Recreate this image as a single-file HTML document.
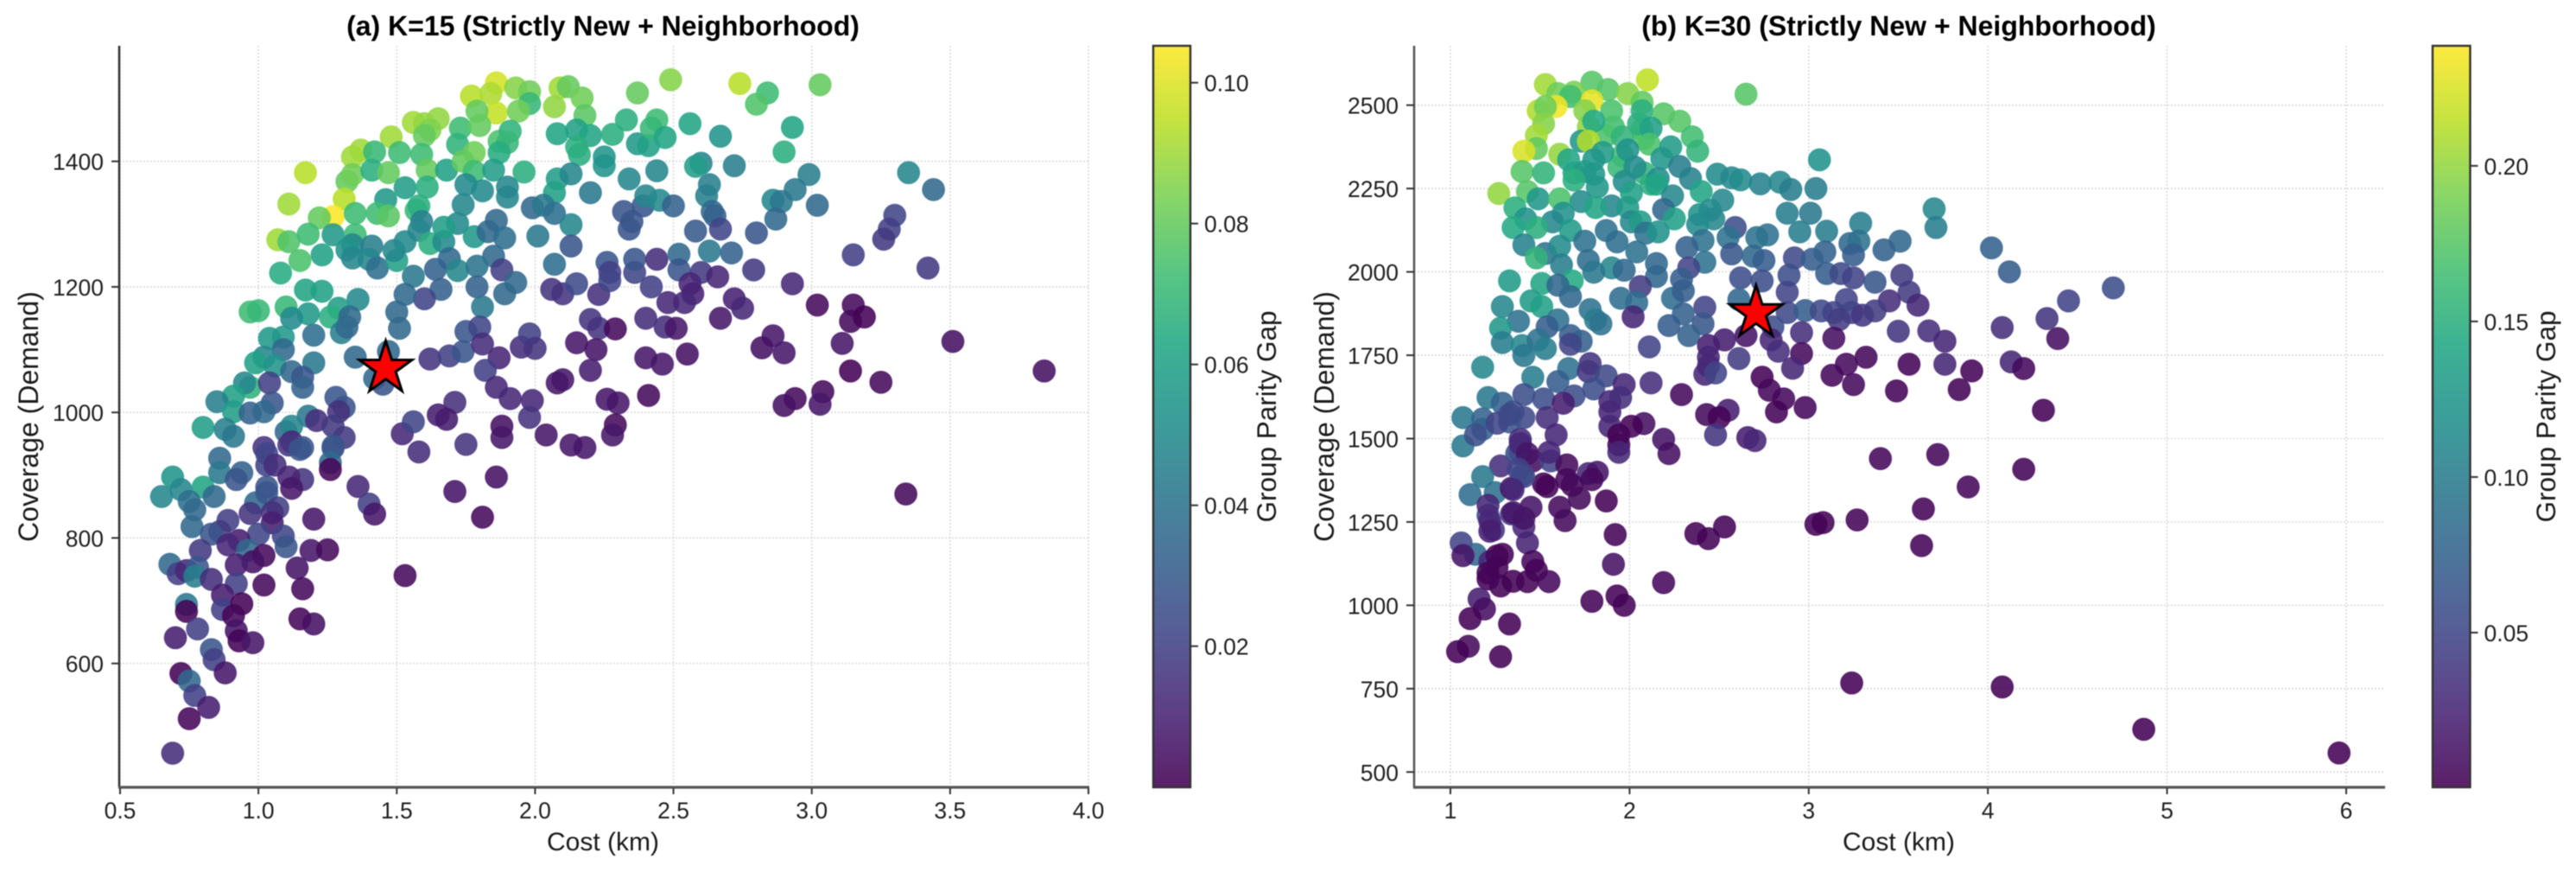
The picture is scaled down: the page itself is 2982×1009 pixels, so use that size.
<!DOCTYPE html>
<html lang="en">
<head>
<meta charset="utf-8">
<title>Coverage vs Cost Trade-off</title>
<style>
html,body{margin:0;padding:0;background:#fff;}
svg{display:block;font-family:"Liberation Sans",Arial,sans-serif;filter:blur(0.6px);}
</style>
</head>
<body>
<svg id="figure" xmlns="http://www.w3.org/2000/svg" width="2982" height="1009" viewBox="0 0 2982 1009">
  <defs>
    <linearGradient id="viridis" x1="0" y1="1" x2="0" y2="0">
      <stop offset="0" stop-color="#440154"/><stop offset="0.1" stop-color="#482475"/>
      <stop offset="0.2" stop-color="#414487"/><stop offset="0.3" stop-color="#355f8d"/>
      <stop offset="0.4" stop-color="#2a788e"/><stop offset="0.5" stop-color="#21918c"/>
      <stop offset="0.6" stop-color="#22a884"/><stop offset="0.7" stop-color="#44bf70"/>
      <stop offset="0.8" stop-color="#7ad151"/><stop offset="0.9" stop-color="#bddf26"/>
      <stop offset="1" stop-color="#fde725"/>
    </linearGradient>
  </defs>
  <rect width="2982" height="1009" fill="#ffffff"/>

  <g id="panel-a">
    <g id="grid-a"></g>
    <g id="points-a"></g>
    <g id="star-a"></g>
    <line x1="138" y1="53" x2="138" y2="911" stroke="#333" stroke-width="2.5"/>
    <line x1="137" y1="911" x2="1261" y2="911" stroke="#555" stroke-width="3.2"/>
    <g id="ticks-a"></g>
    <text x="698" y="41" text-anchor="middle" font-size="32" font-weight="bold" fill="#000">(a) K=15 (Strictly New + Neighborhood)</text>
    <text x="698" y="984" text-anchor="middle" font-size="30" fill="#1a1a1a">Cost (km)</text>
    <text transform="translate(44 482) rotate(-90)" text-anchor="middle" font-size="32" fill="#1a1a1a">Coverage (Demand)</text>
    <rect x="1335" y="53" width="43" height="858" fill="url(#viridis)" fill-opacity="0.88" stroke="#333" stroke-width="2.4"/>
    <g id="cbar-ticks-a"></g>
    <text transform="translate(1477 482) rotate(-90)" text-anchor="middle" font-size="31.5" fill="#1a1a1a">Group Parity Gap</text>
  </g>

  <g id="panel-b">
    <g id="grid-b"></g>
    <g id="points-b"></g>
    <g id="star-b"></g>
    <line x1="1637" y1="53" x2="1637" y2="911" stroke="#555" stroke-width="2.5"/>
    <line x1="1636" y1="911" x2="2761" y2="911" stroke="#555" stroke-width="3.2"/>
    <g id="ticks-b"></g>
    <text x="2198" y="41" text-anchor="middle" font-size="32" font-weight="bold" fill="#000">(b) K=30 (Strictly New + Neighborhood)</text>
    <text x="2198" y="984" text-anchor="middle" font-size="30" fill="#1a1a1a">Cost (km)</text>
    <text transform="translate(1544 482) rotate(-90)" text-anchor="middle" font-size="32" fill="#1a1a1a">Coverage (Demand)</text>
    <rect x="2816" y="53" width="43.5" height="858" fill="url(#viridis)" fill-opacity="0.88" stroke="#333" stroke-width="2.4"/>
    <g id="cbar-ticks-b"></g>
    <text transform="translate(2958 482) rotate(-90)" text-anchor="middle" font-size="31.5" fill="#1a1a1a">Group Parity Gap</text>
  </g>
</svg>

<script>
const xTicksA = [0.5, 1.0, 1.5, 2.0, 2.5, 3.0, 3.5, 4.0];
const yTicksA = [600, 800, 1000, 1200, 1400];
const gapTicksA = [0.02, 0.04, 0.06, 0.08, 0.10];
const xTicksB = [1, 2, 3, 4, 5, 6];
const yTicksB = [500, 750, 1000, 1250, 1500, 1750, 2000, 2250, 2500];
const gapTicksB = [0.05, 0.10, 0.15, 0.20];
const starCostA = [1.46];
const starCoverageA = [1070];
const starCostB = [2.706];
const starCoverageB = [1877];

const costA = [
1.86,1.77,1.84,1.86,1.93,1.98,1.98,1.94,2.09,2.12,
2.07,2.17,2.18,2.37,2.33,2.08,2.15,2.2,2.28,2.15,
2.16,2.25,2.25,2.37,2.41,1.65,1.56,1.6,1.62,1.6,
1.48,1.73,1.79,1.8,1.72,1.78,1.87,1.91,1.9,1.87,
1.37,1.34,1.42,1.51,1.59,1.32,1.34,1.41,1.47,1.61,
1.68,1.74,1.78,1.85,1.96,2.08,2.13,2.34,1.17,1.11,
1.53,1.61,1.46,1.75,1.81,1.9,1.9,2.07,2.2,1.31,
1.27,1.35,1.22,1.43,1.47,1.57,1.58,1.74,1.99,2.03,
2.07,2.13,2.32,2.39,2.35,2.34,1.07,1.11,1.18,1.27,
1.35,1.34,1.41,1.32,1.34,1.4,1.15,1.23,1.08,1.43,
1.5,1.49,1.53,1.59,1.58,1.62,1.67,1.72,1.67,1.78,
1.86,1.83,1.89,2.01,2.13,1.69,1.85,1.64,1.72,1.79,
1.88,1.56,1.93,1.66,1.79,1.89,1.6,1.53,1.81,2.07,
2.26,2.27,2.36,2.36,2.44,2.06,2.1,2.15,2.23,2.27,
2.42,2.2,2.23,2.29,2.4,2.15,2.22,2.4,2.2,2.08,
2.1,2.41,2.26,2.3,2.29,2.28,0.97,1.0,1.1,1.17,
1.23,1.36,1.29,1.26,1.33,1.3,1.32,1.18,1.12,1.2,
1.09,1.04,1.5,1.51,1.35,1.47,1.42,1.45,1.62,1.69,
1.74,1.75,1.8,1.81,1.87,1.95,1.98,2.0,1.82,1.86,
1.91,1.99,1.98,1.09,1.02,0.99,1.06,1.12,1.2,1.16,
1.16,0.97,0.95,1.04,1.05,0.91,0.85,0.91,0.97,1.02,
1.18,1.21,1.28,1.31,1.29,1.27,0.8,0.88,0.91,1.1,
1.12,1.31,1.12,1.16,1.27,1.02,1.52,1.56,1.71,1.65,
1.68,1.88,1.88,2.04,2.13,2.18,1.58,1.75,0.69,0.65,
0.72,0.8,0.86,0.86,0.94,0.92,0.84,0.75,0.77,0.76,
1.03,1.11,1.15,1.03,1.06,1.27,1.26,1.26,1.36,1.4,
1.42,1.03,0.99,1.03,1.07,0.97,1.05,1.05,1.16,1.11,
1.12,1.2,1.71,1.86,1.81,0.89,0.86,0.83,1.0,1.09,
1.1,0.93,0.89,0.79,0.96,1.02,0.98,1.19,1.25,1.14,
1.16,1.53,1.02,0.68,0.71,0.74,0.78,0.77,0.92,0.83,
0.92,0.87,0.87,0.94,0.91,0.74,0.74,0.78,0.7,1.15,
1.2,0.92,0.93,0.98,0.83,0.84,0.88,0.72,0.75,0.77,
0.82,0.75,0.69,2.49,2.74,2.84,2.8,3.03,2.44,2.42,
2.56,2.67,2.93,2.9,2.47,2.6,2.58,2.44,2.72,2.99,
2.94,3.35,3.44,2.63,2.62,2.86,2.89,3.02,2.4,2.45,
2.5,2.64,2.65,2.87,2.58,2.67,2.8,3.3,3.28,3.26,
2.63,2.71,2.52,2.52,3.15,3.42,2.79,2.6,2.66,2.56,
2.57,2.93,2.72,2.75,2.48,2.54,2.47,2.51,2.67,3.02,
3.15,3.14,3.19,2.86,2.82,2.9,3.11,3.51,2.55,2.46,
3.14,3.25,3.84,3.04,2.94,2.9,3.03,3.34
];
const coverageA = [
1525,1504,1508,1477,1517,1511,1492,1480,1517,1519,
1487,1501,1473,1509,1466,1444,1450,1441,1443,1423,
1411,1407,1393,1428,1425,1468,1462,1460,1450,1441,
1439,1453,1480,1457,1427,1414,1432,1448,1430,1414,
1418,1407,1415,1414,1411,1368,1379,1386,1382,1386,
1386,1400,1384,1386,1383,1372,1380,1372,1382,1332,
1358,1359,1339,1363,1353,1359,1343,1350,1350,1340,
1312,1317,1310,1317,1313,1322,1329,1331,1326,1330,
1317,1299,1320,1329,1304,1292,1275,1272,1284,1283,
1283,1267,1265,1259,1246,1244,1242,1251,1222,1230,
1242,1258,1272,1304,1290,1269,1272,1301,1295,1280,
1306,1288,1278,1281,1265,1245,1249,1228,1226,1233,
1227,1217,1207,1196,1200,1189,1181,1188,1168,1236,
1239,1223,1223,1244,1244,1196,1189,1205,1188,1210,
1200,1148,1134,1133,1150,1111,1100,1087,1067,1047,
1052,1027,1021,1015,980,964,1160,1162,1168,1195,
1193,1180,1166,1152,1152,1127,1136,1157,1150,1123,
1120,1118,1160,1134,1088,1097,1054,1045,1085,1090,
1097,1129,1136,1109,1087,1104,1125,1102,1067,1040,
1022,1019,992,1100,1088,1079,1074,1065,1079,1056,
1040,1040,1047,1047,1015,1026,1017,1001,999,1001,
994,987,1024,1008,1001,978,976,973,962,969,
978,960,953,944,946,944,966,985,1016,996,
989,978,960,964,948,944,937,949,897,866,
877,881,927,904,904,893,866,858,845,818,
934,948,941,916,916,943,920,909,882,854,
838,881,856,872,848,839,840,824,893,897,
879,830,874,897,833,828,810,806,806,803,
786,796,789,780,780,772,762,780,781,752,
719,740,725,758,743,748,753,739,757,734,
727,709,686,695,676,694,683,655,641,671,
663,652,636,633,622,606,585,584,572,549,
530,512,457,1530,1524,1509,1491,1522,1466,1453,
1460,1440,1454,1415,1438,1397,1392,1385,1393,1379,
1355,1382,1355,1363,1345,1338,1336,1330,1345,1338,
1329,1320,1313,1308,1289,1292,1286,1314,1292,1276,
1257,1254,1252,1227,1251,1230,1227,1223,1216,1205,
1189,1205,1181,1166,1175,1175,1136,1134,1150,1171,
1171,1145,1152,1122,1103,1095,1110,1113,1093,1077,
1066,1048,1066,1033,1022,1011,1013,870
];
const gapA = [
.098,.094,.092,.096,.086,.082,.07,.082,.09,.08,
.088,.082,.078,.08,.066,.062,.06,.062,.066,.066,
.066,.054,.054,.056,.06,.088,.09,.088,.085,.08,
.09,.072,.08,.08,.068,.082,.075,.068,.07,.065,
.09,.09,.07,.072,.072,.08,.082,.066,.08,.08,
.06,.08,.072,.058,.066,.058,.048,.048,.094,.09,
.058,.066,.056,.05,.05,.048,.048,.06,.042,.094,
.105,.072,.08,.072,.078,.07,.066,.048,.036,.042,
.038,.048,.028,.028,.028,.028,.09,.076,.072,.056,
.072,.048,.045,.054,.048,.048,.075,.06,.065,.038,
.06,.048,.05,.045,.048,.066,.05,.05,.058,.056,
.036,.036,.038,.042,.028,.036,.036,.033,.048,.04,
.02,.042,.036,.033,.033,.036,.022,.036,.042,.038,
.028,.02,.022,.028,.014,.016,.016,.024,.015,.022,
.02,.016,.016,.003,.014,.007,.006,.007,.009,.007,
.007,.003,.007,.007,.003,.007,.072,.07,.07,.062,
.06,.05,.058,.066,.036,.045,.036,.056,.05,.038,
.056,.056,.036,.036,.036,.036,.036,.028,.016,.02,
.028,.028,.022,.014,.011,.014,.02,.016,.02,.012,
.012,.012,.016,.036,.048,.06,.054,.036,.042,.028,
.033,.068,.048,.02,.028,.06,.045,.058,.033,.036,
.042,.014,.028,.028,.015,.018,.058,.045,.042,.036,
.048,.018,.012,.028,.028,.016,.012,.022,.015,.009,
.008,.005,.007,.007,.007,.007,.014,.016,.054,.048,
.048,.062,.036,.042,.033,.028,.036,.038,.036,.036,
.022,.016,.028,.022,.014,.028,.036,.002,.012,.02,
.007,.028,.036,.028,.02,.016,.015,.009,.016,.011,
.007,.007,.006,.005,.003,.02,.018,.028,.022,.022,
.028,.009,.012,.018,.036,.003,.005,.007,.003,.006,
.003,.003,.003,.036,.02,.012,.028,.045,.009,.014,
.02,.009,.02,.001,.002,.042,.001,.02,.009,.002,
.005,.006,.001,.007,.028,.02,.007,.001,.036,.02,
.009,.002,.014,.086,.094,.072,.076,.08,.072,.07,
.062,.054,.062,.066,.062,.048,.058,.048,.045,.045,
.042,.048,.036,.045,.045,.048,.042,.036,.048,.05,
.033,.036,.033,.036,.03,.022,.028,.022,.02,.018,
.042,.033,.036,.028,.02,.018,.018,.018,.011,.011,
.01,.012,.01,.012,.012,.012,.014,.007,.007,.003,
.003,.003,.001,.007,.005,.007,.007,.005,.005,.007,
.001,.003,.005,.003,.003,.005,.007,.003
];

const costB = [
1.91,1.87,1.77,2.08,1.96,1.94,1.69,2.08,2.12,2.07,
2.10,1.53,1.79,1.88,1.6,1.69,1.67,1.99,2.07,1.79,
1.59,1.49,1.53,1.75,1.9,2.07,2.19,2.28,2.65,1.8,
1.52,2.05,2.12,1.48,2.35,1.96,1.73,1.77,1.48,2.11,
1.41,1.61,1.66,1.99,2.23,2.38,1.85,1.8,2.18,2.03,
3.06,2.28,1.4,1.52,1.75,1.8,1.69,1.97,2.16,2.34,
2.49,2.57,2.62,2.73,2.84,2.9,3.04,1.82,1.43,1.27,
1.49,1.61,1.73,2.01,2.15,2.24,2.4,2.52,1.9,1.81,
1.99,2.19,1.36,1.42,1.63,2.25,2.39,2.45,2.47,2.88,
3.01,1.57,1.35,1.48,1.67,1.87,2.01,2.06,2.09,2.16,
2.38,2.59,2.55,2.71,2.77,2.95,3.1,3.29,3.7,3.71,
3.51,3.42,3.23,3.28,1.41,1.53,1.48,1.61,1.75,1.93,
2.41,2.32,2.04,2.57,2.69,2.75,2.92,3.02,3.09,3.25,
1.77,1.62,2.15,2.42,1.9,1.97,1.8,2.33,2.29,2.15,
1.33,1.68,1.51,1.6,2.06,2.62,2.74,2.89,3.1,3.18,
3.25,3.37,3.52,3.56,3.61,1.67,1.29,1.45,1.51,1.95,
2.04,2.24,2.3,2.42,2.61,2.88,3.21,3.45,1.78,2.88,
2.98,3.07,3.14,3.24,3.3,3.37,1.38,1.6,2.02,2.3,
1.81,1.84,3.17,1.28,1.54,2.22,2.41,2.8,2.96,3.14,
3.5,3.67,1.67,2.33,1.29,1.4,1.49,1.53,1.73,1.67,
2.53,2.65,2.44,2.11,2.79,2.83,1.41,2.96,2.44,2.61,
3.32,3.56,3.76,3.76,1.18,1.78,2.44,2.91,3.21,3.13,
1.66,1.77,1.87,2.42,2.48,2.74,3.25,3.49,1.46,1.6,
2.12,1.97,2.29,2.78,2.86,1.8,1.69,1.21,1.41,1.52,
1.63,1.29,1.89,1.95,2.82,2.98,1.07,1.18,1.35,1.89,
2.55,1.41,1.54,2.43,2.5,1.33,2.08,1.89,2.01,1.94,
1.18,1.59,1.39,1.07,2.48,2.66,2.7,2.19,2.22,1.94,
1.94,3.4,3.72,1.39,1.46,1.56,1.65,1.28,1.37,1.4,
1.18,1.52,1.65,1.77,1.82,1.11,1.25,1.34,1.87,1.72,
3.64,1.45,1.61,1.21,1.34,1.64,2.53,2.37,2.44,3.04,
3.08,3.27,3.63,1.41,1.24,1.92,1.43,1.06,1.14,1.07,
1.29,1.22,1.91,1.46,1.48,1.21,1.28,1.35,1.43,1.55,
2.19,1.93,1.97,1.79,1.16,1.19,1.11,1.33,1.1,1.04,
1.28,3.24,4.02,4.12,4.7,4.45,4.33,4.08,4.39,4.13,
4.2,3.91,3.84,4.31,4.2,3.89,4.08,4.87,5.96,
1.39,1.43,1.55,1.38,1.41,1.35,1.54,1.68,1.79,1.21,
1.35,1.22,1.22,1.41,1.26,1.26,1.21,1.26,1.33,1.14
];
const coverageB = [
2435,2409,2435,2400,2349,2314,2297,2297,2263,2427,
2576,2562,2569,2547,2535,2539,2526,2535,2509,2513,
2496,2483,2496,2483,2483,2483,2474,2452,2533,2452,
2444,2444,2431,2409,2405,2405,2392,2392,2370,2383,
2362,2353,2336,2366,2375,2362,2358,2336,2340,2314,
2336,2316,2301,2297,2301,2293,2275,2271,2280,2280,
2293,2282,2276,2264,2269,2247,2250,2254,2241,2235,
2219,2219,2211,2237,2263,2228,2241,2215,2198,2193,
2193,2187,2192,2159,2176,2159,2172,2185,2159,2176,
2176,2150,2133,2133,2124,2124,2150,2150,2116,2120,
2142,2133,2103,2103,2111,2120,2122,2146,2189,2133,
2092,2066,2085,2092,2081,2055,2042,2077,2092,2090,
2094,2073,2060,2054,2047,2034,2042,2038,2060,2051,
2034,2021,2025,2029,2012,2005,1999,2012,1978,1986,
1973,1973,1965,1960,1956,1982,1973,1990,1995,1995,
1982,1969,1990,1939,1900,1926,1896,1913,1896,1921,
1908,1921,1943,1894,1917,1939,1917,1913,1887,1878,
1884,1883,1878,1878,1870,1883,1852,1856,1865,1874,
1856,1844,1857,1831,1835,1839,1844,1835,1818,1801,
1822,1823,1809,1809,1788,1779,1796,1770,1792,1783,
1796,1809,1779,1775,1796,1762,1749,1755,1744,1740,
1744,1723,1792,1723,1714,1725,1718,1711,1723,1690,
1710,1701,1688,1693,1697,1684,1662,1643,1684,1671,
1667,1662,1632,1645,1619,1649,1628,1623,1632,1619,
1606,1606,1611,1623,1580,1593,1563,1559,1580,1580,
1585,1563,1563,1572,1563,1550,1545,1537,1537,1511,
1528,1511,1498,1478,1511,1503,1494,1498,1455,1481,
1459,1440,1452,1459,1433,1433,1421,1418,1455,1390,
1386,1364,1377,1395,1399,1332,1338,1351,1313,1321,
1289,1294,1294,1270,1274,1254,1235,1215,1200,1243,
1248,1256,1179,1235,1226,1212,1187,1187,1153,1149,
1153,1131,1123,1131,1105,1079,1058,1072,1071,1071,
1068,1028,1000,1012,1019,989,960,944,877,861,
846,767,2072,2000,1952,1913,1860,1833,1800,1730,
1710,1703,1647,1585,1408,1355,755,628,557,
1485,1455,1459,1408,1386,1347,1356,1360,1377,1300,
1278,1252,1222,1261,1148,1114,1097,1546,1572,1511
];
const gapB = [
.165,.17,.2,.17,.165,.16,.14,.155,.15,.17,
.215,.205,.175,.175,.185,.19,.165,.195,.18,.23,
.235,.21,.185,.195,.17,.15,.175,.175,.175,.145,
.195,.15,.135,.205,.165,.155,.125,.21,.18,.17,
.225,.2,.14,.12,.13,.155,.13,.125,.125,.115,
.12,.1,.175,.155,.13,.125,.15,.115,.115,.105,
.115,.11,.115,.105,.11,.1,.1,.125,.175,.2,
.125,.17,.115,.135,.14,.11,.14,.11,.11,.14,
.13,.08,.15,.12,.12,.135,.12,.115,.11,.1,
.095,.11,.145,.15,.13,.09,.11,.13,.09,.12,
.115,.058,.09,.09,.09,.1,.1,.1,.11,.1,
.08,.075,.08,.09,.105,.09,.155,.115,.09,.085,
.09,.075,.09,.064,.08,.07,.052,.07,.075,.07,
.085,.1,.08,.09,.11,.08,.095,.048,.07,.08,
.13,.145,.14,.08,.042,.058,.058,.058,.07,.052,
.048,.064,.042,.042,.026,.08,.11,.13,.135,.085,
.085,.085,.07,.048,.08,.048,.048,.032,.09,.052,
.07,.052,.048,.048,.037,.042,.09,.09,.026,.075,
.1,.09,.042,.125,.07,.07,.064,.058,.032,.01,
.037,.032,.07,.075,.1,.11,.09,.1,.075,.048,
.02,.014,.02,.048,.026,.032,.095,.007,.026,.042,
.005,.003,.026,.026,.11,.037,.026,.026,.007,.005,
.09,.037,.052,.026,.048,.001,.007,.003,.1,.07,
.032,.026,.007,.005,.006,.058,.058,.095,.058,.058,
.02,.075,.026,.032,.003,.006,.095,.075,.058,.026,
.02,.052,.032,.007,.002,.064,.01,.026,.002,.002,
.075,.026,.032,.095,.037,.02,.026,.014,.01,.002,
.026,.005,.005,.032,.01,.048,.007,.032,.058,.08,
.095,.002,.006,.026,.014,.085,.09,.014,.002,.007,
.003,.014,.007,.048,.042,.007,.003,.003,.003,.002,
.002,.003,.003,.026,.037,.003,.024,.048,.08,.014,
.002,.026,.012,.006,.002,.002,.003,.002,.003,.006,
.006,.002,.003,.003,.02,.01,.002,.002,.007,.002,
.001,.002,.075,.07,.058,.048,.037,.032,.01,.026,
.006,.003,.003,.002,.003,.005,.001,.001,.001,
.026,.014,.026,.048,.052,.026,.003,.006,.006,.026,
.014,.026,.02,.014,.003,.003,.003,.048,.052,.058
];

const viridisStops = [[68,1,84],[72,36,117],[65,68,135],[53,95,141],[42,120,142],[33,145,140],[34,168,132],[68,191,112],[122,209,81],[189,223,38],[253,231,37]];
const SVG_NS = 'http://www.w3.org/2000/svg';

function linearScale(d0, d1, r0, r1) {
  return function (v) { return r0 + (v - d0) / (d1 - d0) * (r1 - r0); };
}
function viridisColor(t) {
  const c = Math.max(0, Math.min(1, t)) * (viridisStops.length - 1);
  const i = Math.min(viridisStops.length - 2, Math.floor(c));
  const f = c - i;
  const a = viridisStops[i], b = viridisStops[i + 1];
  return 'rgb(' + Math.round(a[0] + (b[0] - a[0]) * f) + ',' + Math.round(a[1] + (b[1] - a[1]) * f) + ',' + Math.round(a[2] + (b[2] - a[2]) * f) + ')';
}
function addEl(parent, tag, attrs, content) {
  const el = document.createElementNS(SVG_NS, tag);
  for (const k in attrs) { el.setAttribute(k, attrs[k]); }
  if (content !== undefined) { el.textContent = content; }
  parent.appendChild(el);
  return el;
}

function drawPanel(id, cfg) {
  const x = cfg.x, y = cfg.y;
  const gridG = document.getElementById('grid-' + id);
  const tickG = document.getElementById('ticks-' + id);
  const ptG = document.getElementById('points-' + id);
  const starG = document.getElementById('star-' + id);
  const cbG = document.getElementById('cbar-ticks-' + id);
  const gridStyle = { stroke: '#cfcfcf', 'stroke-width': 1.6, 'stroke-dasharray': '2 2', 'stroke-opacity': 0.75 };

  cfg.xTicks.forEach(function (v) {
    const px = x(v);
    const g = addEl(gridG, 'line', Object.assign({ x1: px, x2: px, y1: 53, y2: 909 }, gridStyle));
    
    
    const t = addEl(tickG, 'line', { x1: px, x2: px, y1: 912, y2: 919, stroke: '#333', 'stroke-width': 2 });
    
    
    const l = addEl(tickG, 'text', { x: px, y: 947, 'text-anchor': 'middle', 'font-size': 26.5, fill: '#1f1f1f' }, v.toFixed(cfg.xDigits));
    
    
  });
  cfg.yTicks.forEach(function (v) {
    const py = y(v);
    const g = addEl(gridG, 'line', Object.assign({ x1: cfg.axisLeft, x2: cfg.axisRight, y1: py, y2: py }, gridStyle));
    
    
    const t = addEl(tickG, 'line', { x1: cfg.axisLeft - 9, x2: cfg.axisLeft, y1: py, y2: py, stroke: '#333', 'stroke-width': 2 });
    
    
    const l = addEl(tickG, 'text', { x: cfg.axisLeft - 18, y: py + 10, 'text-anchor': 'end', 'font-size': 26.5, fill: '#1f1f1f' }, String(v));
    
    
  });

  const n = Math.min(cfg.cost.length, cfg.coverage.length, cfg.gap.length);
  for (let i = 0; i < n; i++) {
    const col = viridisColor((cfg.gap[i] - cfg.vmin) / (cfg.vmax - cfg.vmin));
    const c = addEl(ptG, 'circle', {
      cx: x(cfg.cost[i]), cy: y(cfg.coverage[i]), r: 12.8,
      fill: col, 'fill-opacity': 0.88, stroke: col, 'stroke-width': 1.4, 'stroke-opacity': 0.6
    });
    
    
  }

  for (let s = 0; s < cfg.starCost.length; s++) {
    const cx = x(cfg.starCost[s]), cy = y(cfg.starCoverage[s]);
    const pts = [];
    for (let k = 0; k < 10; k++) {
      const R = k % 2 === 0 ? 32 : 12.2;
      const ang = -Math.PI / 2 + k * Math.PI / 5;
      pts.push((cx + R * Math.cos(ang)).toFixed(1) + ',' + (cy + R * Math.sin(ang)).toFixed(1));
    }
    const st = addEl(starG, 'polygon', { points: pts.join(' '), fill: '#ff0000', stroke: '#000', 'stroke-width': 3, 'stroke-linejoin': 'miter' });
    
    
  }

  cfg.gapTicks.forEach(function (v) {
    const py = cfg.cb(v);
    const t = addEl(cbG, 'line', { x1: cfg.cbRight, x2: cfg.cbRight + 9, y1: py, y2: py, stroke: '#333', 'stroke-width': 2 });
    
    
    const l = addEl(cbG, 'text', { x: cfg.cbRight + 16, y: py + 10, 'font-size': 26.5, fill: '#1f1f1f' }, v.toFixed(2));
    
    
  });
}

drawPanel('a', {
  x: linearScale(0.5, 4.0, 139, 1260), y: linearScale(600, 1400, 767.7, 186.7),
  cb: linearScale(0.02, 0.10, 747.7, 95.7),
  vmin: 0.0003, vmax: 0.1052, axisLeft: 138, axisRight: 1261, cbRight: 1378, xDigits: 1,
  xTicks: xTicksA, yTicks: yTicksA, gapTicks: gapTicksA,
  cost: costA, coverage: coverageA, gap: gapA, starCost: starCostA, starCoverage: starCoverageA
});
drawPanel('b', {
  x: linearScale(1, 6, 1679, 2716), y: linearScale(500, 2500, 893.3, 121.7),
  cb: linearScale(0.05, 0.20, 732, 191.9),
  vmin: 0.0003, vmax: 0.2386, axisLeft: 1637, axisRight: 2761, cbRight: 2859.5, xDigits: 0,
  xTicks: xTicksB, yTicks: yTicksB, gapTicks: gapTicksB,
  cost: costB, coverage: coverageB, gap: gapB, starCost: starCostB, starCoverage: starCoverageB
});
</script>
</body>
</html>
